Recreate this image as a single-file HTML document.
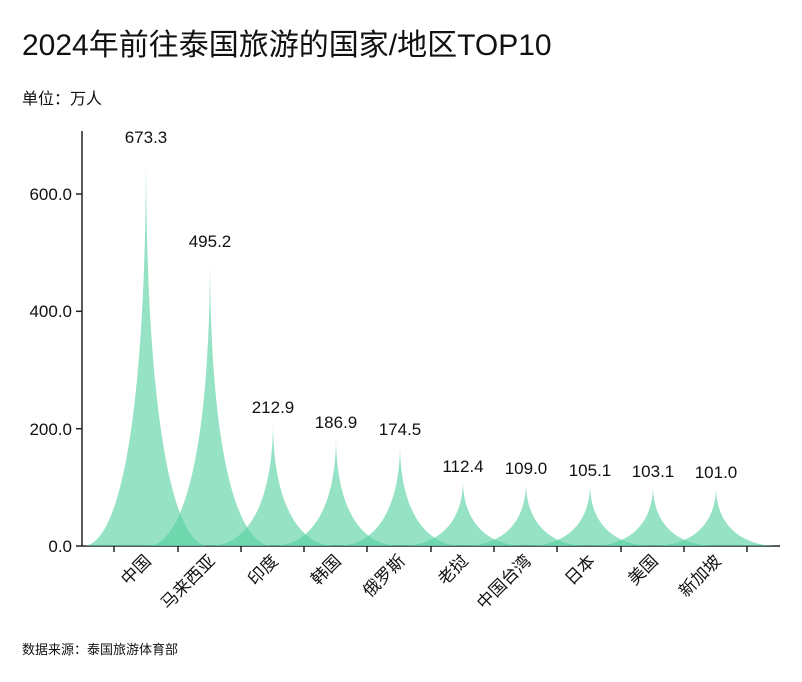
<!DOCTYPE html><html><head><meta charset="utf-8"><style>body{margin:0;background:#fff}svg{display:block;font-family:"Liberation Sans","Noto Sans CJK SC",sans-serif}</style></head><body>
<svg width="802" height="682" xmlns="http://www.w3.org/2000/svg">
<text x="22" y="55" font-size="30" fill="#111">2024年前往泰国旅游的国家/地区TOP10</text>
<text x="22" y="104" font-size="16" fill="#111">单位：万人</text>
<g font-size="17" fill="#111" text-anchor="end">
<text x="72" y="552">0.0</text><text x="72" y="435">200.0</text><text x="72" y="317">400.0</text><text x="72" y="200">600.0</text>
</g>
<g stroke="#222" stroke-width="1.5">
<line x1="82" y1="131" x2="82" y2="546"/><line x1="82" y1="546" x2="780" y2="546"/>
<line x1="76" y1="546" x2="82" y2="546"/><line x1="76" y1="428.7" x2="82" y2="428.7"/><line x1="76" y1="311.3" x2="82" y2="311.3"/><line x1="76" y1="194" x2="82" y2="194"/>
</g>
<g fill="rgba(85,208,160,0.62)">
<path d="M83 546 C121 546 146 408 146 151 C146 408 171 546 209 546Z"/>
<path d="M147 546 C185 546 210 444 210 255.5 C210 444 235 546 273 546Z"/>
<path d="M210 546 C248 546 273 502 273 421.1 C273 502 298 546 336 546Z"/>
<path d="M273 546 C311 546 336 508 336 436.4 C336 508 361 546 399 546Z"/>
<path d="M337 546 C375 546 400 510 400 443.6 C400 510 425 546 463 546Z"/>
<path d="M400 546 C438 546 463 523 463 480.1 C463 523 488 546 526 546Z"/>
<path d="M463 546 C501 546 526 524 526 482.1 C526 524 551 546 589 546Z"/>
<path d="M527 546 C565 546 590 524 590 484.3 C590 524 615 546 653 546Z"/>
<path d="M590 546 C628 546 653 525 653 485.5 C653 525 678 546 716 546Z"/>
<path d="M653 546 C691 546 716 525 716 486.7 C716 525 741 546 779 546Z"/>
</g>
<g stroke="#222" stroke-width="1.5">
<line x1="114" y1="546" x2="114" y2="552"/><line x1="178" y1="546" x2="178" y2="552"/><line x1="241" y1="546" x2="241" y2="552"/><line x1="304" y1="546" x2="304" y2="552"/><line x1="367" y1="546" x2="367" y2="552"/><line x1="431" y1="546" x2="431" y2="552"/><line x1="494" y1="546" x2="494" y2="552"/><line x1="557" y1="546" x2="557" y2="552"/><line x1="621" y1="546" x2="621" y2="552"/><line x1="684" y1="546" x2="684" y2="552"/><line x1="747" y1="546" x2="747" y2="552"/>
</g>
<g font-size="17" fill="#111" text-anchor="middle">
<text x="146" y="143">673.3</text><text x="210" y="247">495.2</text><text x="273" y="413">212.9</text><text x="336" y="428">186.9</text><text x="400" y="435">174.5</text><text x="463" y="472">112.4</text><text x="526" y="474">109.0</text><text x="590" y="476">105.1</text><text x="653" y="477">103.1</text><text x="716" y="478">101.0</text>
</g>
<g font-size="17" fill="#111" text-anchor="end">
<text transform="translate(152,562) rotate(-45)">中国</text>
<text transform="translate(216,562) rotate(-45)">马来西亚</text>
<text transform="translate(279,562) rotate(-45)">印度</text>
<text transform="translate(342,562) rotate(-45)">韩国</text>
<text transform="translate(406,562) rotate(-45)">俄罗斯</text>
<text transform="translate(469,562) rotate(-45)">老挝</text>
<text transform="translate(532,562) rotate(-45)">中国台湾</text>
<text transform="translate(596,562) rotate(-45)">日本</text>
<text transform="translate(659,562) rotate(-45)">美国</text>
<text transform="translate(722,562) rotate(-45)">新加坡</text>
</g>
<text x="22" y="654" font-size="13" fill="#111">数据来源：泰国旅游体育部</text>
</svg></body></html>
